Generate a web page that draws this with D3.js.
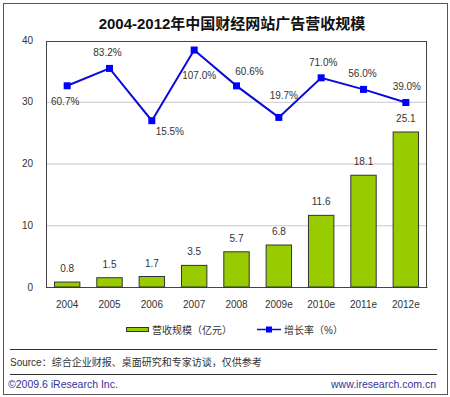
<!DOCTYPE html>
<html>
<head>
<meta charset="utf-8">
<script src="https://cdn.jsdelivr.net/npm/d3@7"></script>
<style>
  body { margin: 0; background: #fff; }
  text { font-family: "Liberation Sans", "Noto Sans CJK SC", sans-serif; }
</style>
</head>
<body>
<div id="chart"></div>
<script>
const years = ["2004", "2005", "2006", "2007", "2008", "2009e", "2010e", "2011e", "2012e"];
const revenue = [0.8, 1.5, 1.7, 3.5, 5.7, 6.8, 11.6, 18.1, 25.1];
const growth = [60.7, 83.2, 15.5, 107.0, 60.6, 19.7, 71.0, 56.0, 39.0];
const yTicks = [0, 10, 20, 30, 40];

// where each growth label sits relative to its marker
const growthLabelOffset = [
  [-2, 19], [-2, -12], [18, 14], [5, 29], [13, -11],
  [5, -18], [2, -12], [-1, -12], [1, -13],
];

const W = 450, H = 397;
const margin = { top: 40, right: 23, bottom: 110, left: 46 };
const width = W - margin.left - margin.right,
  height = H - margin.top - margin.bottom;

const svg = d3
  .select("#chart")
  .append("svg")
  .attr("width", W)
  .attr("height", H);

// outer frame
svg
  .append("rect")
  .attr("x", 3.5)
  .attr("y", 3.5)
  .attr("width", 444)
  .attr("height", 391)
  .attr("fill", "#fff")
  .attr("stroke", "#555");

svg
  .append("text")
  .attr("x", 232)
  .attr("y", 29)
  .attr("text-anchor", "middle")
  .style("font-size", "15px")
  .style("font-weight", "bold")
  .attr("fill", "#111")
  .text("2004-2012年中国财经网站广告营收规模");

const g = svg
  .append("g")
  .attr("transform", `translate(${margin.left},${margin.top})`);

const x = d3.scaleBand().domain(years).range([0, width]).paddingInner(0.4).paddingOuter(0.2);
const y = d3.scaleLinear().domain([0, 40]).range([height, 0]);
// hidden right axis for the growth line
const y2 = d3.scaleLinear().domain([-200, 120]).range([height, 0]);

// grid
g.selectAll(".grid")
  .data(yTicks.filter((d) => d > 0 && d < 40))
  .enter()
  .append("line")
  .attr("x1", 0)
  .attr("x2", width)
  .attr("y1", (d) => y(d) + 0.5)
  .attr("y2", (d) => y(d) + 0.5)
  .attr("stroke", "#c8c8c8");

g.append("rect")
  .attr("x", 0.5)
  .attr("y", 1.5)
  .attr("width", width - 1)
  .attr("height", height - 1)
  .attr("fill", "none")
  .attr("stroke", "#444");

const yAxis = g
  .append("g")
  .call(d3.axisLeft(y).tickValues(yTicks).tickSize(0).tickPadding(13));
yAxis.select(".domain").remove();
yAxis
  .selectAll("text")
  .style("font-size", "10px")
  .attr("fill", "#333");

const xAxis = g
  .append("g")
  .attr("transform", `translate(0,${height})`)
  .call(d3.axisBottom(x).tickSize(0).tickPadding(14));
xAxis.select(".domain").attr("stroke", "#444");
xAxis
  .selectAll("text")
  .style("font-size", "10px")
  .attr("fill", "#333");

// bars
g.selectAll(".bar")
  .data(revenue)
  .enter()
  .append("rect")
  .attr("class", "bar")
  .attr("x", (d, i) => x(years[i]))
  .attr("y", (d) => y(d))
  .attr("width", x.bandwidth())
  .attr("height", (d) => height - y(d))
  .attr("fill", "#99cc00")
  .attr("stroke", "#333")
  .attr("stroke-width", 1);

g.selectAll(".bar-label")
  .data(revenue)
  .enter()
  .append("text")
  .attr("x", (d, i) => x(years[i]) + x.bandwidth() / 2)
  .attr("y", (d) => y(d) - 10)
  .attr("text-anchor", "middle")
  .style("font-size", "10px")
  .attr("fill", "#333")
  .text((d) => d.toFixed(1));

// growth line
const cx = (i) => x(years[i]) + x.bandwidth() / 2;
const line = d3
  .line()
  .x((d, i) => cx(i))
  .y((d) => y2(d));

g.append("path")
  .datum(growth)
  .attr("d", line)
  .attr("fill", "none")
  .attr("stroke", "#0a0ad8")
  .attr("stroke-width", 2);

g.selectAll(".marker")
  .data(growth)
  .enter()
  .append("rect")
  .attr("x", (d, i) => cx(i) - 3.5)
  .attr("y", (d) => y2(d) - 3.5)
  .attr("width", 7)
  .attr("height", 7)
  .attr("fill", "#0000ff");

g.selectAll(".growth-label")
  .data(growth)
  .enter()
  .append("text")
  .attr("x", (d, i) => cx(i) + growthLabelOffset[i][0])
  .attr("y", (d, i) => y2(d) + growthLabelOffset[i][1])
  .attr("text-anchor", "middle")
  .style("font-size", "10px")
  .attr("fill", "#333")
  .text((d) => d.toFixed(1) + "%");

// legend
const legend = svg.append("g");
legend
  .append("rect")
  .attr("x", 126.5)
  .attr("y", 327.5)
  .attr("width", 22)
  .attr("height", 4)
  .attr("fill", "#99cc00")
  .attr("stroke", "#333");
legend
  .append("text")
  .attr("x", 152)
  .attr("y", 334)
  .style("font-size", "10px")
  .attr("fill", "#333")
  .text("营收规模（亿元）");
legend
  .append("line")
  .attr("x1", 257)
  .attr("x2", 281)
  .attr("y1", 329.5)
  .attr("y2", 329.5)
  .attr("stroke", "#0a0ad8")
  .attr("stroke-width", 1.5);
legend
  .append("rect")
  .attr("x", 266)
  .attr("y", 326.5)
  .attr("width", 6)
  .attr("height", 6)
  .attr("fill", "#0000ff");
legend
  .append("text")
  .attr("x", 284)
  .attr("y", 334)
  .style("font-size", "10px")
  .attr("fill", "#333")
  .text("增长率（%）");

// footer
[349.5, 374.5].forEach((ly) => {
  svg
    .append("line")
    .attr("x1", 10)
    .attr("x2", 437)
    .attr("y1", ly)
    .attr("y2", ly)
    .attr("stroke", "#333");
});

svg
  .append("text")
  .attr("x", 10)
  .attr("y", 366)
  .style("font-size", "10px")
  .attr("fill", "#333")
  .text("Source：综合企业财报、桌面研究和专家访谈，仅供参考");

svg
  .append("text")
  .attr("x", 8)
  .attr("y", 388)
  .style("font-size", "10.5px")
  .attr("fill", "#333399")
  .text("©2009.6 iResearch Inc.");

svg
  .append("text")
  .attr("x", 436)
  .attr("y", 388)
  .attr("text-anchor", "end")
  .style("font-size", "10.5px")
  .attr("fill", "#333399")
  .text("www.iresearch.com.cn");
</script>
</body>
</html>
